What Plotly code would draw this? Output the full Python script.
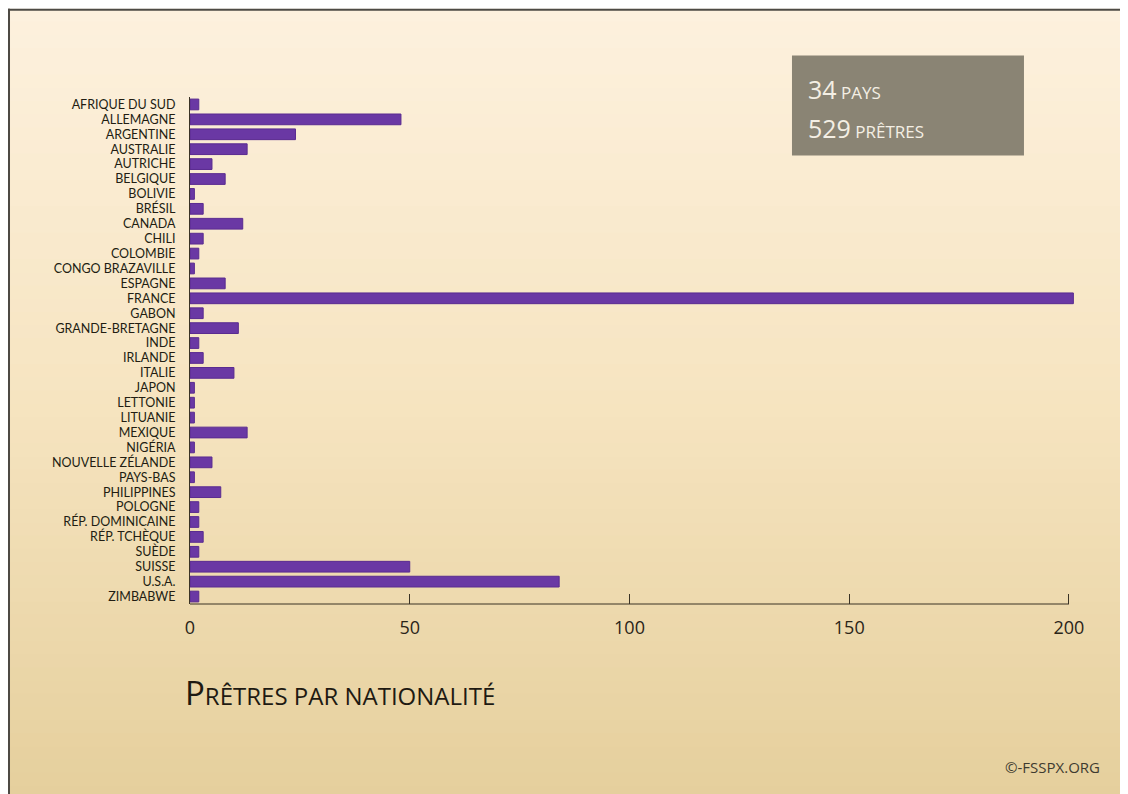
import plotly.graph_objects as go

countries = ["AFRIQUE DU SUD", "ALLEMAGNE", "ARGENTINE", "AUSTRALIE", "AUTRICHE", "BELGIQUE",
             "BOLIVIE", "BRÉSIL", "CANADA", "CHILI", "COLOMBIE", "CONGO BRAZAVILLE", "ESPAGNE",
             "FRANCE", "GABON", "GRANDE-BRETAGNE", "INDE", "IRLANDE", "ITALIE", "JAPON",
             "LETTONIE", "LITUANIE", "MEXIQUE", "NIGÉRIA", "NOUVELLE ZÉLANDE", "PAYS-BAS",
             "PHILIPPINES", "POLOGNE", "RÉP. DOMINICAINE", "RÉP. TCHÈQUE", "SUÈDE", "SUISSE",
             "U.S.A.", "ZIMBABWE"]
priests = [2, 48, 24, 13, 5, 8, 1, 3, 12, 3, 2, 1, 8, 201, 3, 11, 2, 3, 10, 1, 1, 1, 13,
           1, 5, 1, 7, 2, 2, 3, 2, 50, 84, 2]
x_ticks = [0, 50, 100, 150, 200]

OFF = 8  # page body margin
W, H = 1120, 786
X_MAX = 201.6
# plot area in page coordinates (0 -> 190 px, 200 -> 1069 px)
PL, PT, PB = 190, 96.5, 604.5
PR = PL + (1069 - 190) * X_MAX / 200
L, R, T, B = PL - OFF, PR - OFF, PT - OFF, PB - OFF


def px(x):  # page x -> paper
    return (x - PL) / (PR - PL)


def py(y):  # page y -> paper
    return (PB - y) / (PB - PT)


def lerp(c1, c2, t):
    return tuple(round(a + (b - a) * t) for a, b in zip(c1, c2))


fig = go.Figure(go.Bar(
    x=priests, y=countries, orientation="h",
    marker=dict(color="#6a38a4", line=dict(color="#5a2b90", width=1)),
    width=0.72, hoverinfo="x+y",
))

shapes = []
top_c = (253, 241, 222)
mid_c = (246, 228, 192)
bot_c = (229, 207, 156)
n = 60
y0 = 8
for i in range(n):
    ya = y0 + (800 - y0) * i / n
    yb = y0 + (800 - y0) * (i + 1) / n + 1
    t = (i + 0.5) / n
    c = lerp(top_c, mid_c, t * 2) if t < 0.5 else lerp(mid_c, bot_c, (t - 0.5) * 2)
    shapes.append(dict(type="rect", xref="paper", yref="paper", layer="below",
                       x0=px(8), x1=px(1140), y0=py(yb), y1=py(ya),
                       fillcolor="rgb(%d,%d,%d)" % c, line=dict(width=0)))
# border top and left
shapes.append(dict(type="line", xref="paper", yref="paper", x0=px(8), x1=px(1140),
                   y0=py(9), y1=py(9), line=dict(color="#4d4a44", width=2)))
shapes.append(dict(type="line", xref="paper", yref="paper", x0=px(9), x1=px(9),
                   y0=py(8), y1=py(800), line=dict(color="#4d4a44", width=2)))
# x axis baseline from 0 to 200
shapes.append(dict(type="line", xref="x", yref="paper", x0=0, x1=200, y0=0, y1=0,
                   line=dict(color="#3a3325", width=1)))
# info box
shapes.append(dict(type="rect", xref="paper", yref="paper", x0=px(792), x1=px(1024),
                   y0=py(155), y1=py(55), fillcolor="#8a8474", line=dict(width=0)))

annotations = [
    dict(xref="paper", yref="paper", x=px(806), y=py(88), xanchor="left", yanchor="middle",
         showarrow=False, align="left",
         text="<span style='font-size:25px'>34</span> PAYS",
         font=dict(family="Open Sans, Noto Sans", size=17, color="#f4efe4")),
    dict(xref="paper", yref="paper", x=px(806), y=py(128), xanchor="left", yanchor="middle",
         showarrow=False, align="left",
         text="<span style='font-size:25px'>529</span> PRÊTRES",
         font=dict(family="Open Sans, Noto Sans", size=17, color="#f4efe4")),
    dict(xref="paper", yref="paper", x=px(183), y=py(693), xanchor="left", yanchor="middle",
         showarrow=False,
         text="<span style='font-size:33px'>P</span>RÊTRES PAR NATIONALITÉ",
         font=dict(family="Open Sans, Noto Sans", size=24, color="#1e1a12")),
    dict(xref="paper", yref="paper", x=px(1102), y=py(768), xanchor="right", yanchor="middle",
         showarrow=False, text="©-FSSPX.ORG",
         font=dict(family="Open Sans, Noto Sans", size=15, color="#3e3b30")),
]

fig.update_layout(
    width=W, height=H,
    margin=dict(l=L, r=W - R, t=T, b=H - B, pad=0),
    paper_bgcolor="white", plot_bgcolor="rgba(0,0,0,0)",
    shapes=shapes, annotations=annotations,
    showlegend=False, bargap=0.28,
    xaxis=dict(range=[0, X_MAX], tickvals=x_ticks, ticks="inside", ticklen=10,
               tickcolor="#3a3325", tickwidth=1, showline=False,
               showgrid=False, zeroline=False, ticklabelstandoff=11,
               tickfont=dict(family="Open Sans, Noto Sans", size=18, color="#2a2418"),
               fixedrange=True),
    yaxis=dict(categoryorder="array", categoryarray=countries,
               tickmode="array", tickvals=countries, ticktext=countries,
               range=[33.5, -0.5], autorange=False, showline=True, linecolor="#3a3325",
               linewidth=1, showgrid=False, zeroline=False, ticks="", ticklabelstandoff=11,
               tickfont=dict(family="Lato, Open Sans", size=12.5, color="#221d12"),
               fixedrange=True),
)

fig.write_html("out.html")
